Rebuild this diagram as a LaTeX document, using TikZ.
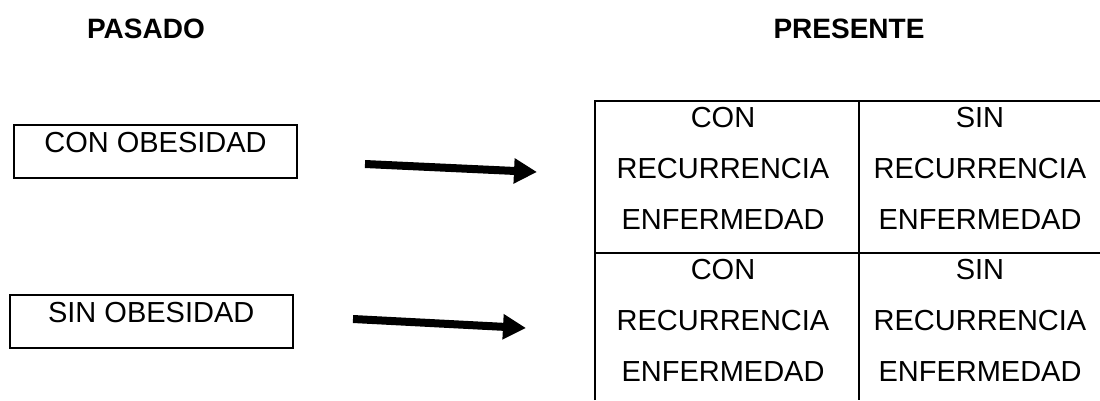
\documentclass[tikz,border=0pt]{standalone}
\usepackage{fontspec}
\setmainfont{Liberation Sans}
\usepackage{tikz}
\usetikzlibrary{arrows.meta}

\begin{document}
\begin{tikzpicture}[x=1pt, y=-1pt,
    title/.style={anchor=base, inner sep=0pt, font=\fontsize{28}{34}\selectfont\bfseries},
    obbox/.style={draw, line width=2pt, anchor=base, inner sep=0pt,
                  minimum width=283pt, text height=28pt, text depth=25pt,
                  font=\fontsize{29}{35}\selectfont},
    celltxt/.style={anchor=base, inner sep=0pt, font=\fontsize{29}{35}\selectfont},
    fatarrow/.style={line width=8pt, -{Triangle[length=23pt, width=24pt]}},
    gridline/.style={line width=2pt}]
  \useasboundingbox (0,0) rectangle (1100,400);

  %--- titles ---
  \node[title] (pasado)   at (146,38.3) {PASADO};
  \node[title] (presente) at (849,38.3) {PRESENTE};

  %--- past groups ---
  \node[obbox] (conob) at (155.5,152.7) {CON OBESIDAD};
  \node[obbox] (sinob) at (151.2,322.7) {SIN OBESIDAD};

  %--- arrows ---
  \coordinate (conA) at (365,164);
  \coordinate (conB) at (537,172);
  \coordinate (sinA) at (353,319);
  \coordinate (sinB) at (526,328);
  \draw[fatarrow] (conA) -- (conB);
  \draw[fatarrow] (sinA) -- (sinB);

  %--- present table (open at right and bottom) ---
  \draw[gridline] (595,400) -- (595,100.7) -- (1100,100.7);
  \draw[gridline] (595,252.7) -- (1100,252.7);
  \draw[gridline] (858.7,100.7) -- (858.7,400);

  \foreach \col/\x/\word in {1/723/CON, 2/980/SIN} {
    \foreach \row/\y in {1/127, 2/279} {
      \node[celltxt] (c\row\col a) at (\x,\y)       {\word};
      \node[celltxt] (c\row\col b) at (\x,{\y+51})  {RECURRENCIA};
      \node[celltxt] (c\row\col c) at (\x,{\y+102}) {ENFERMEDAD};
    }
  }

\end{tikzpicture}
\end{document}
